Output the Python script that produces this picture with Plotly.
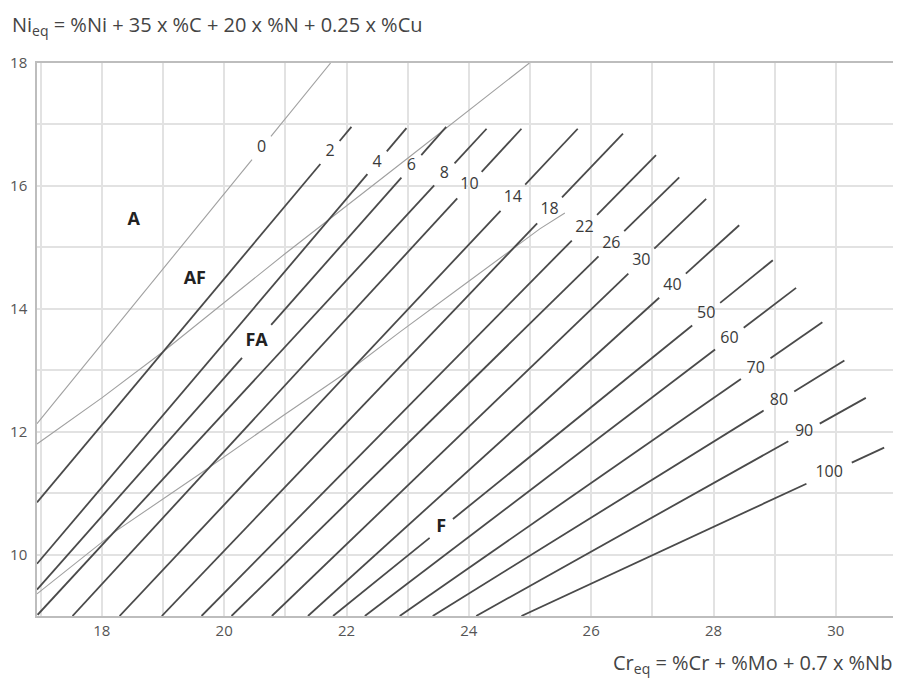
import plotly.graph_objects as go
import math

# ---- Data (WRC-1992 style constitution diagram) ----
fn_labels = ["0", "2", "4", "6", "8", "10", "14", "18", "22", "26", "30",
             "40", "50", "60", "70", "80", "90", "100"]
x_start = [16.94, 16.94, 16.94, 16.94, 16.95, 17.52, 18.29, 18.98, 19.63, 20.12,
           20.78, 21.37, 21.78, 22.30, 22.87, 23.41, 24.12, 24.86]
y_start = [12.13, 10.85, 9.85, 9.43, 9.02, 9.0, 9.0, 9.0, 9.0, 9.0,
           9.0, 9.0, 9.0, 9.0, 9.0, 9.0, 9.0, 9.0]
x_end = [21.74, 22.08, 22.98, 23.63, 24.29, 24.86, 25.78, 26.52, 27.06, 27.44,
         27.88, 28.42, 28.97, 29.35, 29.78, 30.14, 30.49, 30.79]
y_end = [18.0, 16.96, 16.94, 16.96, 16.93, 16.93, 16.93, 16.85, 16.50, 16.14,
         15.79, 15.36, 14.79, 14.34, 13.78, 13.16, 12.55, 11.74]
label_x = [20.61, 21.73, 22.50, 23.06, 23.60, 24.01, 24.72, 25.32, 25.89, 26.33,
           26.82, 27.33, 27.88, 28.26, 28.69, 29.07, 29.48, 29.89]

# phase boundaries (thin lines)
af_fa_x = [16.94, 17.5, 18.0, 19.0, 21.0, 23.0, 24.99]
af_fa_y = [11.80, 12.20, 12.55, 13.30, 14.90, 16.45, 18.0]
fa_f_x = [16.94, 18.24, 19.60, 20.96, 22.05, 22.87, 23.96, 25.16, 25.57]
fa_f_y = [9.36, 10.39, 11.31, 12.26, 13.00, 13.62, 14.42, 15.30, 15.56]

regions = ["A", "AF", "FA", "F"]
region_x = [18.52, 19.52, 20.53, 23.55]
region_y = [15.44, 14.48, 13.46, 10.44]
region_line = [None, None, "6", "50"]   # line that is interrupted by the region label

x_tick_vals = list(range(17, 32))
x_tick_text = [str(v) if v % 2 == 0 else "" for v in x_tick_vals]
y_tick_vals = list(range(9, 19))
y_tick_text = [str(v) if v % 2 == 0 else "" for v in y_tick_vals]

XR = [16.94, 31.0]
YR = [9.0, 18.0]

# the page body has an 8px margin, so the figure is placed at (8, 8)
W, H = 893, 682
ML, MR, MT, MB = 29, 4, 55, 74
PX = (W - ML - MR) / (XR[1] - XR[0])
PY = (H - MT - MB) / (YR[1] - YR[0])

FONT = "'Open Sans', Lato, sans-serif"


def gapped(x0, y0, x1, y1, gaps):
    L = math.hypot((x1 - x0) * PX, (y1 - y0) * PY)
    cuts = []
    for xc, half in gaps:
        tc = (xc - x0) / (x1 - x0)
        h = half / L
        cuts.append((tc - h, tc + h))
    cuts.sort()
    xs, ys = [], []
    t = 0.0
    for a, b in cuts:
        xs += [x0 + (x1 - x0) * t, x0 + (x1 - x0) * a, None]
        ys += [y0 + (y1 - y0) * t, y0 + (y1 - y0) * a, None]
        t = b
    xs += [x0 + (x1 - x0) * t, x1, None]
    ys += [y0 + (y1 - y0) * t, y1, None]
    return xs, ys


thick_x, thick_y, thin_x, thin_y = [], [], [], []
lab_x, lab_y = [], []
for i, lab in enumerate(fn_labels):
    half = {1: 15, 2: 18, 3: 25}[len(lab)]
    gaps = [(label_x[i], half)]
    for r, rl, rx in zip(regions, region_line, region_x):
        if rl == lab:
            gaps.append((rx, 22 if len(r) == 2 else 15))
    xs, ys = gapped(x_start[i], y_start[i], x_end[i], y_end[i], gaps)
    if lab == "0":
        thin_x += xs
        thin_y += ys
    else:
        thick_x += xs
        thick_y += ys
    t = (label_x[i] - x_start[i]) / (x_end[i] - x_start[i])
    lab_x.append(label_x[i])
    lab_y.append(y_start[i] + (y_end[i] - y_start[i]) * t)

thin_x += af_fa_x + [None] + fa_f_x
thin_y += af_fa_y + [None] + fa_f_y

fig = go.Figure()
fig.add_trace(go.Scatter(x=thin_x, y=thin_y, mode="lines",
                         line=dict(color="#a0a0a0", width=1.1),
                         hoverinfo="skip", showlegend=False))
fig.add_trace(go.Scatter(x=thick_x, y=thick_y, mode="lines",
                         line=dict(color="#4a4a4a", width=1.8),
                         hoverinfo="skip", showlegend=False))
fig.add_trace(go.Scatter(x=lab_x, y=lab_y, mode="text", text=fn_labels,
                         textfont=dict(family=FONT, size=16, color="#3a3a3a"),
                         hoverinfo="skip", showlegend=False))
fig.add_trace(go.Scatter(x=region_x, y=region_y, mode="text",
                         text=["<b>%s</b>" % r for r in regions],
                         textfont=dict(family=FONT, size=18, color="#222"),
                         hoverinfo="skip", showlegend=False))

axis_common = dict(showgrid=True, gridcolor="#e2e2e2", gridwidth=1.5,
                   zeroline=False, showline=True, mirror=True,
                   linecolor="#bdbdbd", linewidth=1.5, ticks="",
                   automargin=False,
                   tickfont=dict(family=FONT, size=15, color="#555"))

fig.update_layout(
    width=W, height=H,
    margin=dict(l=ML, r=MR, t=MT, b=MB, autoexpand=False),
    paper_bgcolor="white", plot_bgcolor="white",
    font=dict(family=FONT, size=15, color="#555"),
    xaxis=dict(range=XR, tickvals=x_tick_vals, ticktext=x_tick_text, **axis_common),
    yaxis=dict(range=YR, tickvals=y_tick_vals, ticktext=y_tick_text,
               ticklabelstandoff=5, **axis_common),
    annotations=[
        dict(text="Ni<sub>eq</sub> = %Ni + 35 x %C + 20 x %N + 0.25 x %Cu",
             xref="paper", yref="paper", x=(2 - ML) / (W - ML - MR),
             y=(H - MB - 1) / (H - MT - MB), xanchor="left", yanchor="top",
             showarrow=False, font=dict(family=FONT, size=20, color="#444")),
        dict(text="Cr<sub>eq</sub> = %Cr + %Mo + 0.7 x %Nb",
             xref="paper", yref="paper", x=(886 - ML) / (W - ML - MR),
             y=(H - MB - 655) / (H - MT - MB), xanchor="right", yanchor="middle",
             showarrow=False, font=dict(family=FONT, size=20, color="#444")),
    ],
)

fig.write_html("out.html")
